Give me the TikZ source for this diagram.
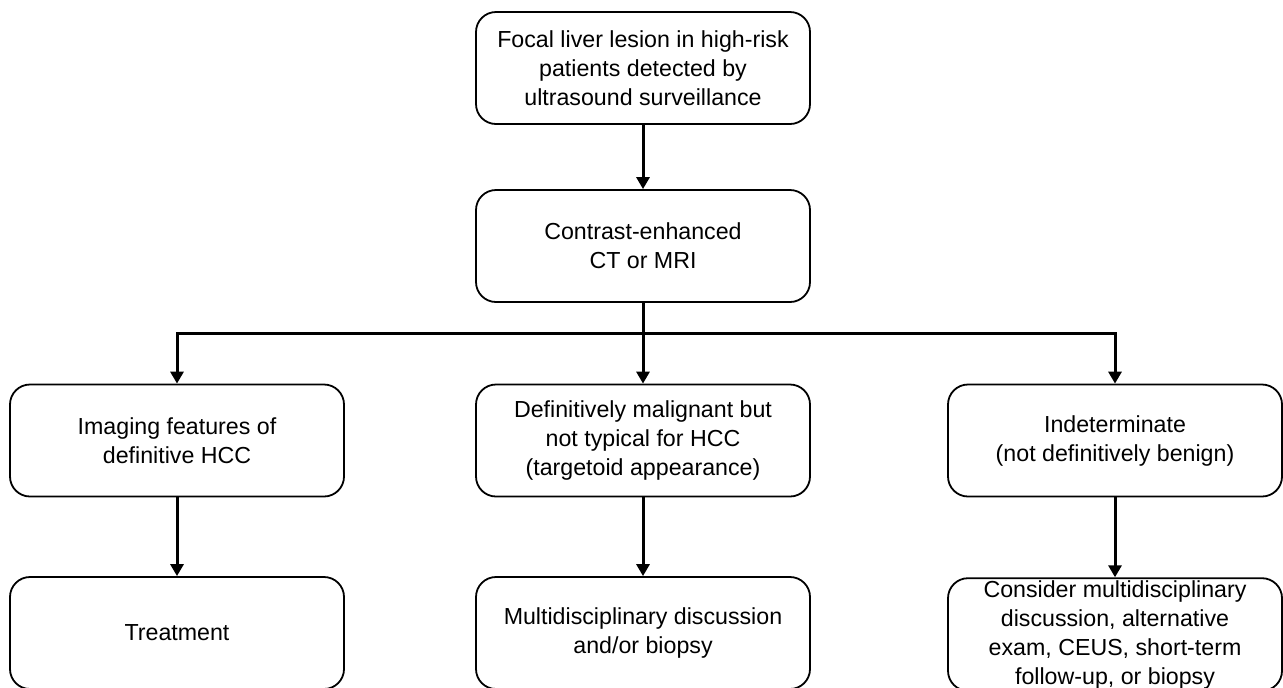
\documentclass[tikz,border=0pt]{standalone}
\usepackage{fontspec}
\setmainfont{Liberation Sans}
\usetikzlibrary{arrows.meta}

\begin{document}
\begin{tikzpicture}[x=0.5pt,y=-0.5pt,
  box/.style={shape=rectangle,rounded corners=10pt,draw=black,align=center,line width=0.9pt,minimum width=167pt,minimum height=56pt,inner sep=1pt,font=\fontsize{11.6}{14.5}\selectfont},
  link/.style={draw=black,line width=1.5pt},
  flow/.style={link,-{Triangle[length=6pt,width=6.5pt]}}]
\useasboundingbox (0,0) rectangle (1283,687);
\node[box] (0) at (643,68) {Focal liver lesion in high-risk\\patients detected by\\ultrasound surveillance};
\node[box] (1) at (643,246) {Contrast-enhanced\\CT or MRI};
\node[box] (2) at (177,440.5) {Imaging features of\\definitive HCC};
\node[box] (3) at (643,440.5) {Definitively malignant but\\not typical for HCC\\(targetoid appearance)};
\node[box] (4) at (1115,440.5) {Indeterminate\\(not definitively benign)};
\node[box] (5) at (177,633) {Treatment};
\node[box] (6) at (643,633) {Multidisciplinary discussion\\and/or biopsy};
\node[box] (7) at (1115,634.5) {Consider multidisciplinary\\discussion, alternative\\exam, CEUS, short-term\\follow-up, or biopsy};
\coordinate (8) at (643,333);

\path [flow] (0) -- (1);
\path [link] (1) -- (8);
\path [flow] (8) -| (2);
\path [flow] (8) -- (3);
\path [flow] (8) -| (4);
\path [flow] (2) -- (5);
\path [flow] (3) -- (6);
\path [flow] (4) -- (7);
\end{tikzpicture}
\end{document}
